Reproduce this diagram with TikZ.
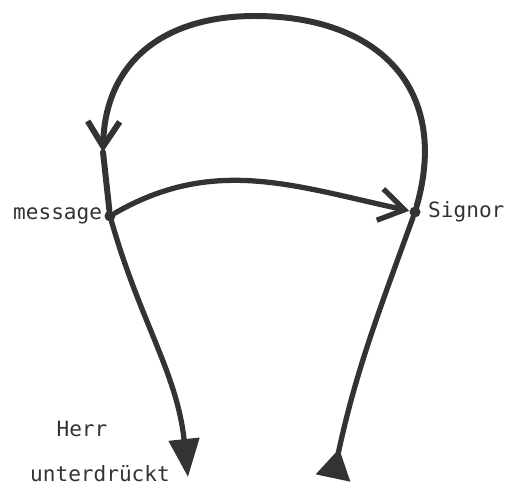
\documentclass[tikz,border=0pt]{standalone}
\usepackage{fontspec}
\setmonofont{DejaVu Sans Mono}
\usepackage{tikz}
\usetikzlibrary{arrows.meta,positioning}
\usepackage{xcolor}
\definecolor{pencil}{HTML}{333333}
\tikzset{pathline/.style={draw=pencil,line width=3pt,line cap=round},junction/.style={circle,fill=pencil,inner sep=0pt,minimum size=.22cm},figlabel/.style={font=\ttfamily\fontsize{12}{14}\selectfont,text=pencil,inner sep=1pt},barbtip/.style={-{Straight Barb[length=.5cm,width=.64cm]}}}

\begin{document}
\begin{tikzpicture}
\useasboundingbox (0,0) rectangle (10.18,9.72);
\node[junction] (msg) at (2.20,5.40) {};
\node[junction] (sig) at (8.30,5.48) {};
\coordinate (top) at (5.10,9.40);
\coordinate (turn) at (2.06,6.68);
\coordinate (lowleft) at (3.76,0.18);
\coordinate (lowright) at (6.66,0.16);
% loop over the top, back to message
\draw[pathline,line width=3.4pt,barbtip] (sig) .. controls (9.00,7.92) and (7.60,9.40) .. (top) .. controls (3.20,9.40) and (2.10,8.42) .. (turn);
\draw[pathline,line width=3.4pt] (turn) -- (msg);
\draw[pathline,barbtip] (msg) to[out=30,in=168] (sig);
\draw[pathline,-{Triangle[length=.76cm,width=.6cm]}] (msg) to[out=-74,in=96] (lowleft);
\draw[pathline,-{Triangle[reversed,length=.6cm,width=.68cm]}] (sig) to[out=-110,in=78] (lowright);
\node[figlabel,left=0pt of msg] (msglbl) {message};
\node[figlabel,right=3pt of sig] (siglbl) {Signor};
\node[figlabel,anchor=base] (herr) at (1.64,0.98) {Herr};
\node[figlabel,anchor=base] (unterdr) at (2.00,0.08) {unterdrückt};
\end{tikzpicture}
\end{document}
